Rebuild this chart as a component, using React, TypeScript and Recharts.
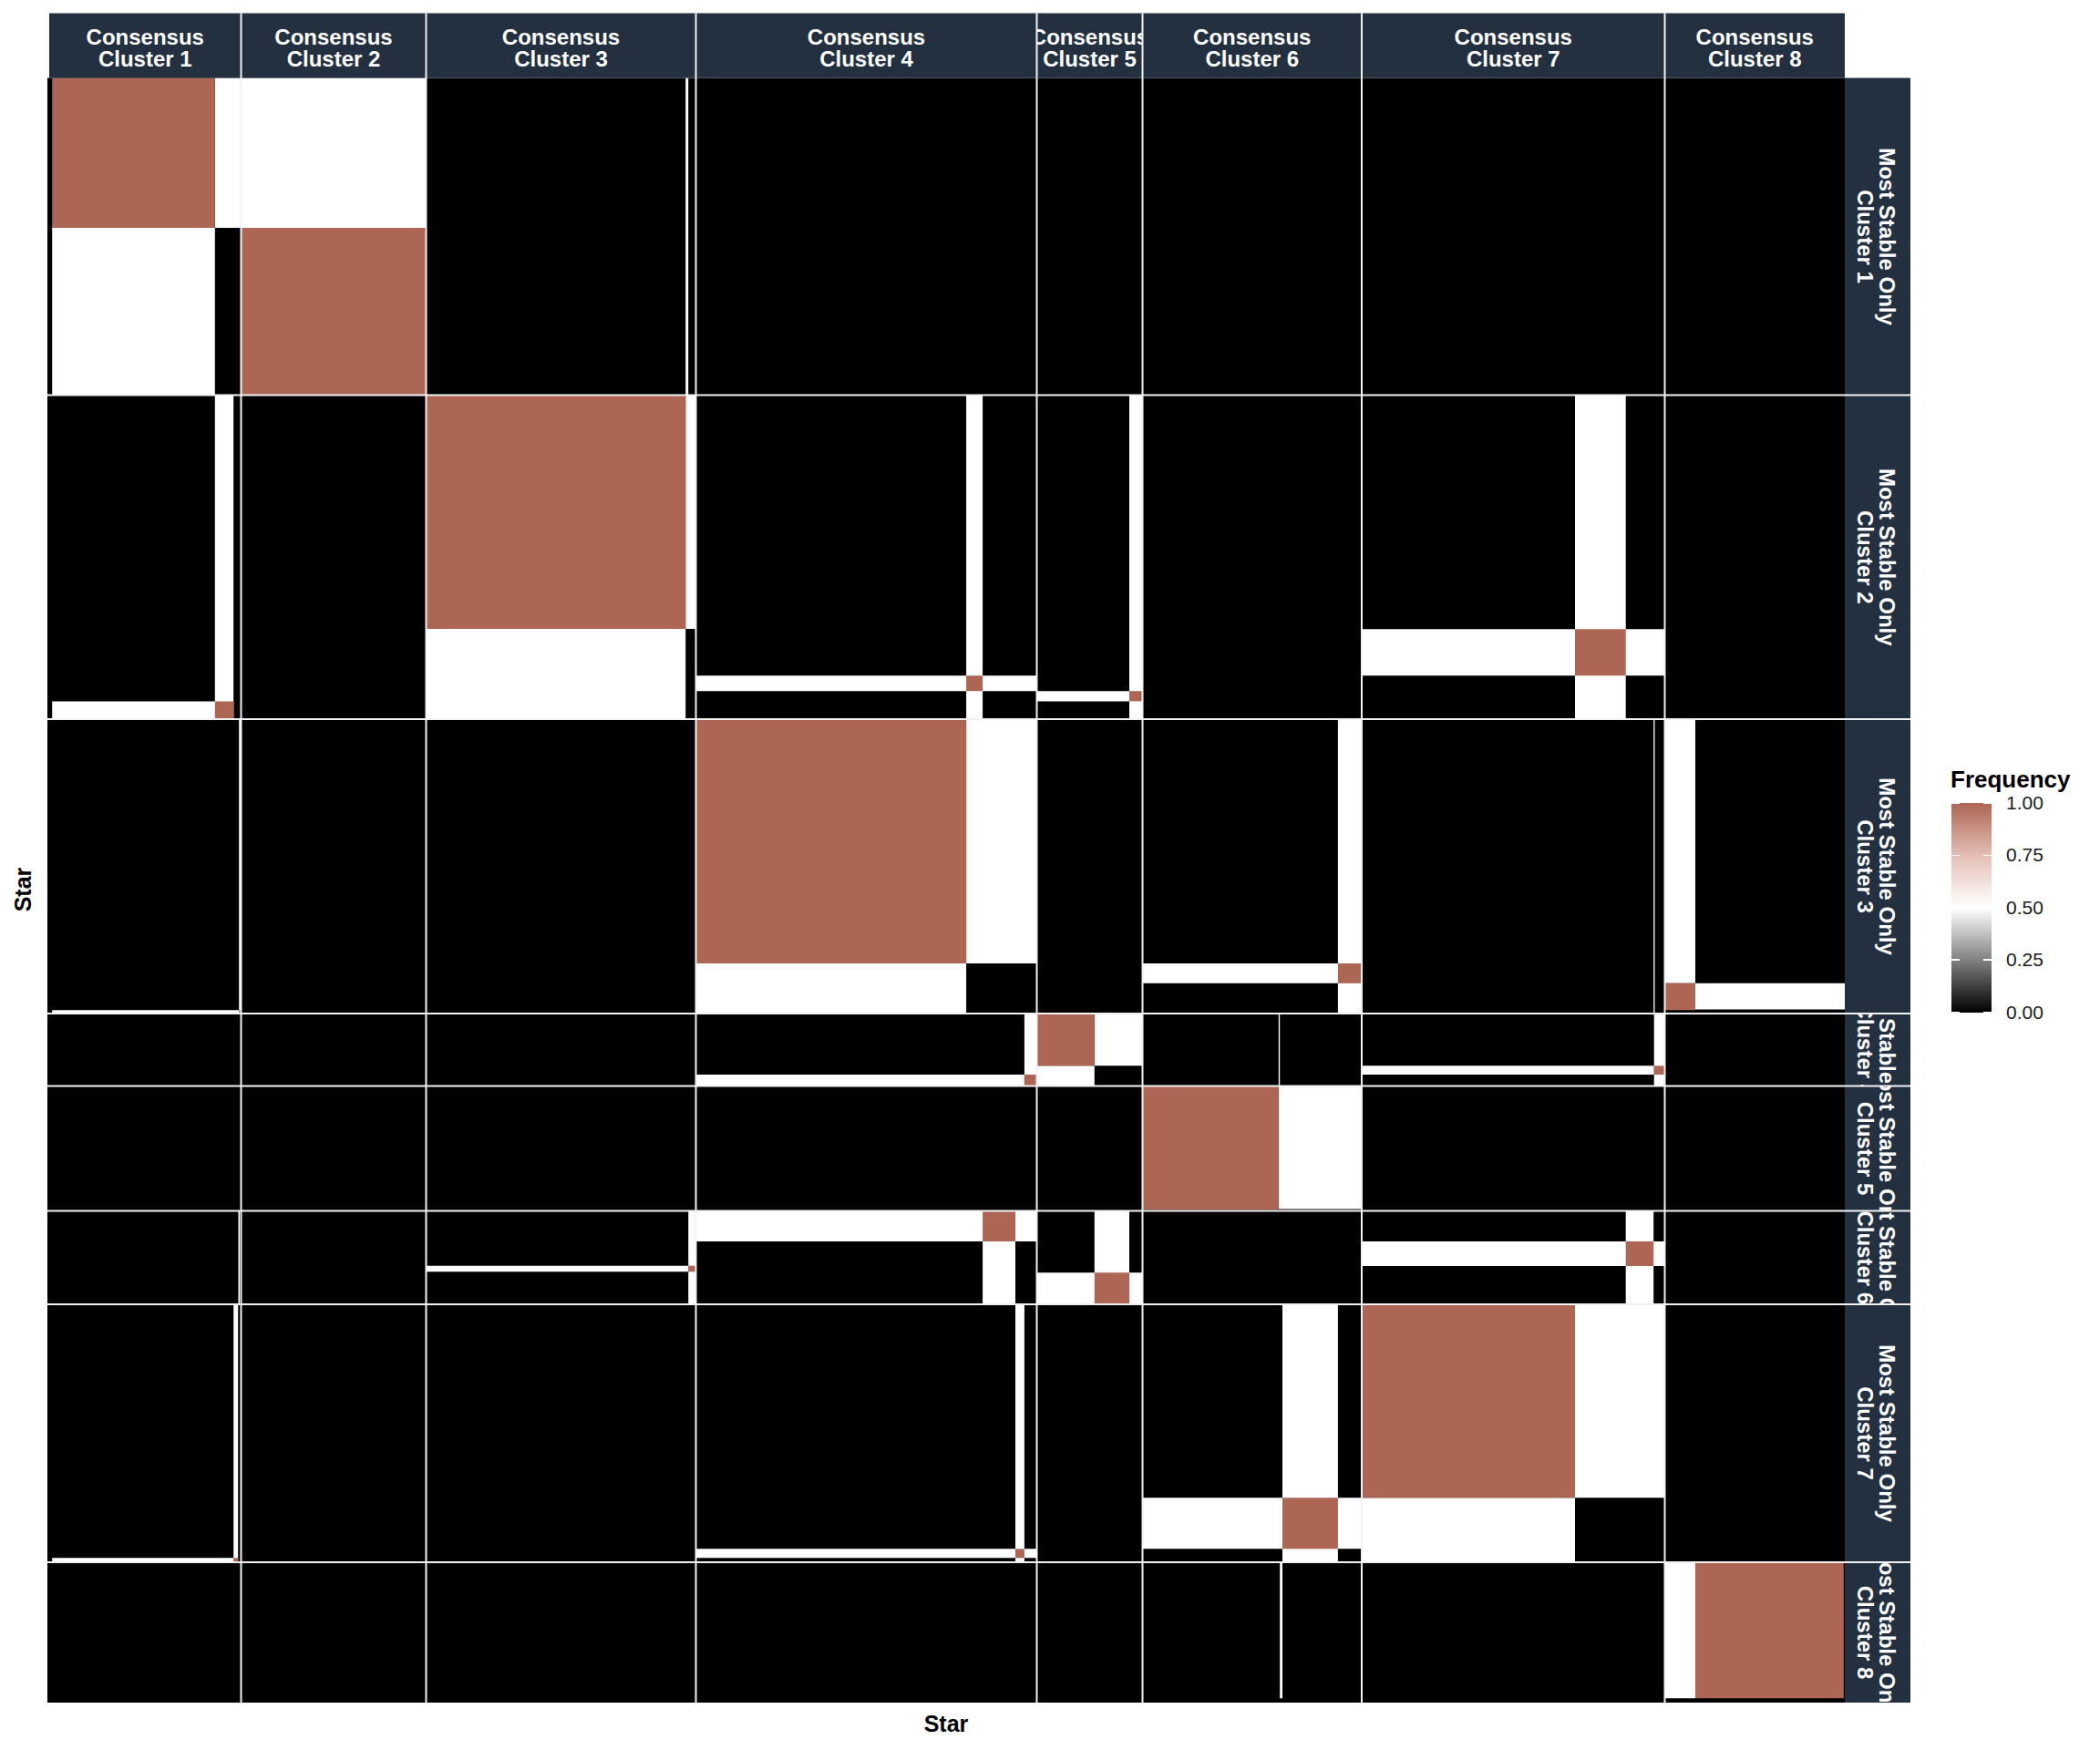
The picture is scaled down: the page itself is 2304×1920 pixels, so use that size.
import React from "react";
import { ComposedChart, XAxis, YAxis, ReferenceArea, ReferenceLine, Scatter } from "recharts";

const FONT = '"Liberation Sans", Arial, Helvetica, sans-serif';
const STRIP_BG = "#23303f";
const STRIP_H = 71;
const STRIP_W = 72;

// facets: consensus clusters across, most-stable-only clusters down
const colClusters = ["Cluster 1", "Cluster 2", "Cluster 3", "Cluster 4", "Cluster 5", "Cluster 6", "Cluster 7", "Cluster 8"];
const rowClusters = ["Cluster 1", "Cluster 2", "Cluster 3", "Cluster 4", "Cluster 5", "Cluster 6", "Cluster 7", "Cluster 8"];

// facet extents along the star axes
const colWidths = [212.5, 203, 296, 374, 116, 240.5, 332.5, 197.5];
const rowHeights = [348, 355.5, 323, 79.5, 137, 102.5, 283, 154];

// blocks inside a facet: [row, col, x0, x1, y0, y1]; everything else is frequency 0
const halfBlocks = [
  [1, 1, 183.8, 212.5, 0, 164.5],
  [1, 1, 5.2, 183.8, 164.5, 348],
  [1, 2, 0, 203, 0, 164.5],
  [1, 3, 284.7, 287.7, 0, 348],
  [2, 1, 183.8, 204.2, 0, 355.5],
  [2, 1, 5.2, 204.2, 335.9, 355.5],
  [2, 3, 284.7, 296, 0, 256.5],
  [2, 3, 0, 284.7, 256.5, 355.5],
  [2, 4, 296.6, 314.6, 0, 355.5],
  [2, 4, 0, 374, 307.8, 324.7],
  [2, 5, 101.5, 116, 0, 355.5],
  [2, 5, 0, 101.5, 324.7, 335.9],
  [2, 7, 234, 289.7, 0, 355.5],
  [2, 7, 0, 332.5, 256.8, 307.8],
  [3, 1, 210.2, 212.5, 0, 323],
  [3, 1, 5.2, 210.2, 319.3, 323],
  [3, 4, 296.6, 374, 0, 268],
  [3, 4, 0, 296.6, 268, 323],
  [3, 6, 214.4, 240.5, 0, 323],
  [3, 6, 0, 240.5, 268, 289.8],
  [3, 7, 320.2, 321.5, 0, 323],
  [3, 8, 0, 33.5, 0, 289.8],
  [3, 8, 33.5, 197.5, 289.8, 318.4],
  [4, 4, 360.4, 374, 0, 79.5],
  [4, 4, 0, 360.4, 67, 79.5],
  [4, 5, 63.3, 116, 0, 57.3],
  [4, 5, 0, 63.3, 57.3, 79.5],
  [4, 6, 149.3, 150.7, 0, 79.5],
  [4, 7, 0, 320.7, 57.3, 67],
  [4, 7, 320.7, 332.5, 0, 79.5],
  [5, 6, 149.3, 240.5, 0, 135],
  [6, 1, 209.5, 211, 0, 102.5],
  [6, 3, 0, 287.7, 60.2, 66.8],
  [6, 3, 287.7, 296, 0, 102.5],
  [6, 4, 0, 374, 0, 33.5],
  [6, 4, 314.6, 350.5, 0, 102.5],
  [6, 5, 63.3, 101.5, 0, 102.5],
  [6, 5, 0, 116, 67.7, 102.5],
  [6, 7, 0, 332.5, 33.5, 60.5],
  [6, 7, 289.7, 320.2, 0, 102.5],
  [7, 1, 204.2, 209.2, 0, 283],
  [7, 1, 5.2, 204.2, 278.3, 283],
  [7, 4, 350.5, 360.4, 0, 283],
  [7, 4, 0, 374, 268.3, 278.3],
  [7, 6, 153.5, 214.4, 0, 283],
  [7, 6, 0, 240.5, 212.3, 268.3],
  [7, 7, 234, 332.5, 0, 212.3],
  [7, 7, 0, 234, 212.3, 283],
  [8, 6, 150.7, 153.5, 0, 149.3],
  [8, 8, 0, 33.5, 0, 149.3],
];

const fullBlocks = [
  [1, 1, 5.2, 183.8, 0, 164.5],
  [1, 2, 0, 203, 164.5, 348],
  [2, 1, 183.8, 204.2, 335.9, 355.5],
  [2, 3, 0, 284.7, 0, 256.5],
  [2, 4, 296.6, 314.6, 307.8, 324.7],
  [2, 5, 101.5, 116, 324.7, 335.9],
  [2, 7, 234, 289.7, 256.8, 307.8],
  [3, 1, 210.2, 212.5, 319.3, 323],
  [3, 4, 0, 296.6, 0, 268],
  [3, 6, 214.4, 240.5, 268, 289.8],
  [3, 8, 0, 33.5, 289.8, 319.3],
  [4, 4, 360.4, 374, 67, 79.5],
  [4, 5, 0, 63.3, 0, 57.3],
  [4, 7, 320.7, 332.5, 57.3, 67],
  [5, 6, 0, 149.3, 0, 135.5],
  [6, 3, 287.7, 296, 60.2, 66.8],
  [6, 4, 314.6, 350.5, 0, 33.5],
  [6, 5, 63.3, 101.5, 67.7, 102.5],
  [6, 7, 289.7, 320.2, 33.5, 60.5],
  [7, 1, 204.2, 209.2, 278.3, 283],
  [7, 4, 350.5, 360.4, 268.3, 278.3],
  [7, 6, 153.5, 214.4, 212.3, 268.3],
  [7, 7, 0, 234, 0, 212.3],
  [8, 8, 33.5, 196.3, 0, 149.3],
];

const legendTicks = [1, 0.75, 0.5, 0.25, 0];
const freqStops = [0, 0.25, 0.5, 0.75, 1];
const freqColors = ["#000000", "#808080", "#ffffff", "#e4beb5", "#ad6654"];

const hex = (c: string) => [1, 3, 5].map((i) => parseInt(c.slice(i, i + 2), 16));
function freqColor(v: number) {
  let i = 0;
  while (i < freqStops.length - 2 && v > freqStops[i + 1]) i++;
  const t = (v - freqStops[i]) / (freqStops[i + 1] - freqStops[i]);
  const a = hex(freqColors[i]);
  const b = hex(freqColors[i + 1]);
  const m = a.map((x, k) => Math.round(x + (b[k] - x) * t));
  return `rgb(${m[0]},${m[1]},${m[2]})`;
}

const cumsum = (arr: number[]) => arr.reduce<number[]>((acc, v) => [...acc, acc[acc.length - 1] + v], [0]);
const colStart = cumsum(colWidths);
const rowStart = cumsum(rowHeights);
const TOTAL_X = colStart[colStart.length - 1];
const TOTAL_Y = rowStart[rowStart.length - 1];

const tiles = [
  ...halfBlocks.map((b) => ({ b, freq: 0.5 })),
  ...fullBlocks.map((b) => ({ b, freq: 1 })),
].map(({ b, freq }) => ({
  x1: colStart[b[1] - 1] + b[2],
  x2: colStart[b[1] - 1] + b[3],
  y1: rowStart[b[0] - 1] + b[4],
  y2: rowStart[b[0] - 1] + b[5],
  freq,
}));

const anchor = [{ x: 0, y: 0 }];

const stripShape = (id: string, lines: string[], vertical: boolean) => (p: any) => {
  const { x, y, width, height } = p;
  const cx = x + width / 2;
  const cy = y + height / 2;
  return (
    <g>
      <defs>
        <clipPath id={id}>
          <rect x={x} y={y} width={width} height={height} />
        </clipPath>
      </defs>
      <rect x={x} y={y} width={width} height={height} fill={STRIP_BG} />
      <g clipPath={`url(#${id})`}>
        <text
          transform={vertical ? `rotate(90 ${cx} ${cy})` : undefined}
          textAnchor="middle"
          fill="#ffffff"
          fontFamily={FONT}
          fontWeight="bold"
          fontSize={24}
        >
          <tspan x={cx} y={cy - 1.5}>{lines[0]}</tspan>
          <tspan x={cx} y={cy + 22.5}>{lines[1]}</tspan>
        </text>
      </g>
    </g>
  );
};

const BAR_TOP = 881;
const BAR_H = 229.5;

export default function App() {
  return (
    <div style={{ position: "absolute", left: 0, top: 0, width: 2304, height: 1920, background: "#fff", fontFamily: FONT }}>
      <ComposedChart width={2304} height={1920} margin={{ top: 14.5, left: 52, right: 208, bottom: 52 }}>
        <XAxis type="number" dataKey="x" domain={[0, TOTAL_X + STRIP_W]} allowDataOverflow hide height={0} />
        <YAxis type="number" dataKey="y" domain={[-STRIP_H, TOTAL_Y]} allowDataOverflow reversed hide width={0} />
        <ReferenceArea x1={0} x2={TOTAL_X} y1={0} y2={TOTAL_Y} fill={freqColor(0)} fillOpacity={1} stroke="none" ifOverflow="visible" />
        {tiles.map((t, i) => (
          <ReferenceArea key={`t${i}`} x1={t.x1} x2={t.x2} y1={t.y1} y2={t.y2} fill={freqColor(t.freq)} fillOpacity={1} stroke="none" ifOverflow="visible" />
        ))}
        {colClusters.map((c, i) => (
          <ReferenceArea
            key={`cs${i}`}
            x1={colStart[i] + (i === 0 ? 2 : 0)}
            x2={colStart[i + 1]}
            y1={-STRIP_H}
            y2={0}
            ifOverflow="visible"
            shape={stripShape(`cclip${i}`, ["Consensus", c], false)}
          />
        ))}
        {rowClusters.map((r, i) => (
          <ReferenceArea
            key={`rs${i}`}
            x1={TOTAL_X}
            x2={TOTAL_X + STRIP_W}
            y1={rowStart[i]}
            y2={rowStart[i + 1]}
            ifOverflow="visible"
            shape={stripShape(`rclip${i}`, ["Most Stable Only", r], true)}
          />
        ))}
        {colStart.slice(1, -1).map((v, i) => (
          <ReferenceLine key={`vx${i}`} x={v} stroke="#f2f2f2" strokeWidth={2} ifOverflow="visible" />
        ))}
        {rowStart.slice(1, -1).map((v, i) => (
          <ReferenceLine key={`hy${i}`} y={v} stroke="#f2f2f2" strokeWidth={2} ifOverflow="visible" />
        ))}
        <Scatter data={anchor} isAnimationActive={false} shape={() => <g />} />
      </ComposedChart>

      <div style={{ position: "absolute", left: 988, top: 1876, width: 100, textAlign: "center", fontSize: 25, lineHeight: "30px", fontWeight: "bold", color: "#000" }}>
        Star
      </div>
      <div style={{ position: "absolute", left: -25, top: 961, width: 100, height: 30, textAlign: "center", fontSize: 25, lineHeight: "30px", fontWeight: "bold", color: "#000", transform: "rotate(-90deg)" }}>
        Star
      </div>

      <div style={{ position: "absolute", left: 2140, top: 840, fontSize: 26, lineHeight: "30px", fontWeight: "bold", color: "#000" }}>
        Frequency
      </div>
      <div
        style={{
          position: "absolute",
          left: 2140.5,
          top: BAR_TOP,
          width: 44.7,
          height: BAR_H,
          background: `linear-gradient(to top, ${freqStops.map((s, i) => `${freqColors[i]} ${s * 100}%`).join(", ")})`,
        }}
      />
      {legendTicks.map((v) => {
        const y = BAR_TOP + (1 - v) * BAR_H;
        return (
          <React.Fragment key={v}>
            <div style={{ position: "absolute", left: 2140.5, top: y - 0.75, width: 9, height: 1.5, background: "#fff" }} />
            <div style={{ position: "absolute", left: 2176.2, top: y - 0.75, width: 9, height: 1.5, background: "#fff" }} />
            <div style={{ position: "absolute", left: 2201, top: y - 12, fontSize: 21, lineHeight: "24px", color: "#1a1a1a" }}>
              {v.toFixed(2)}
            </div>
          </React.Fragment>
        );
      })}
    </div>
  );
}
